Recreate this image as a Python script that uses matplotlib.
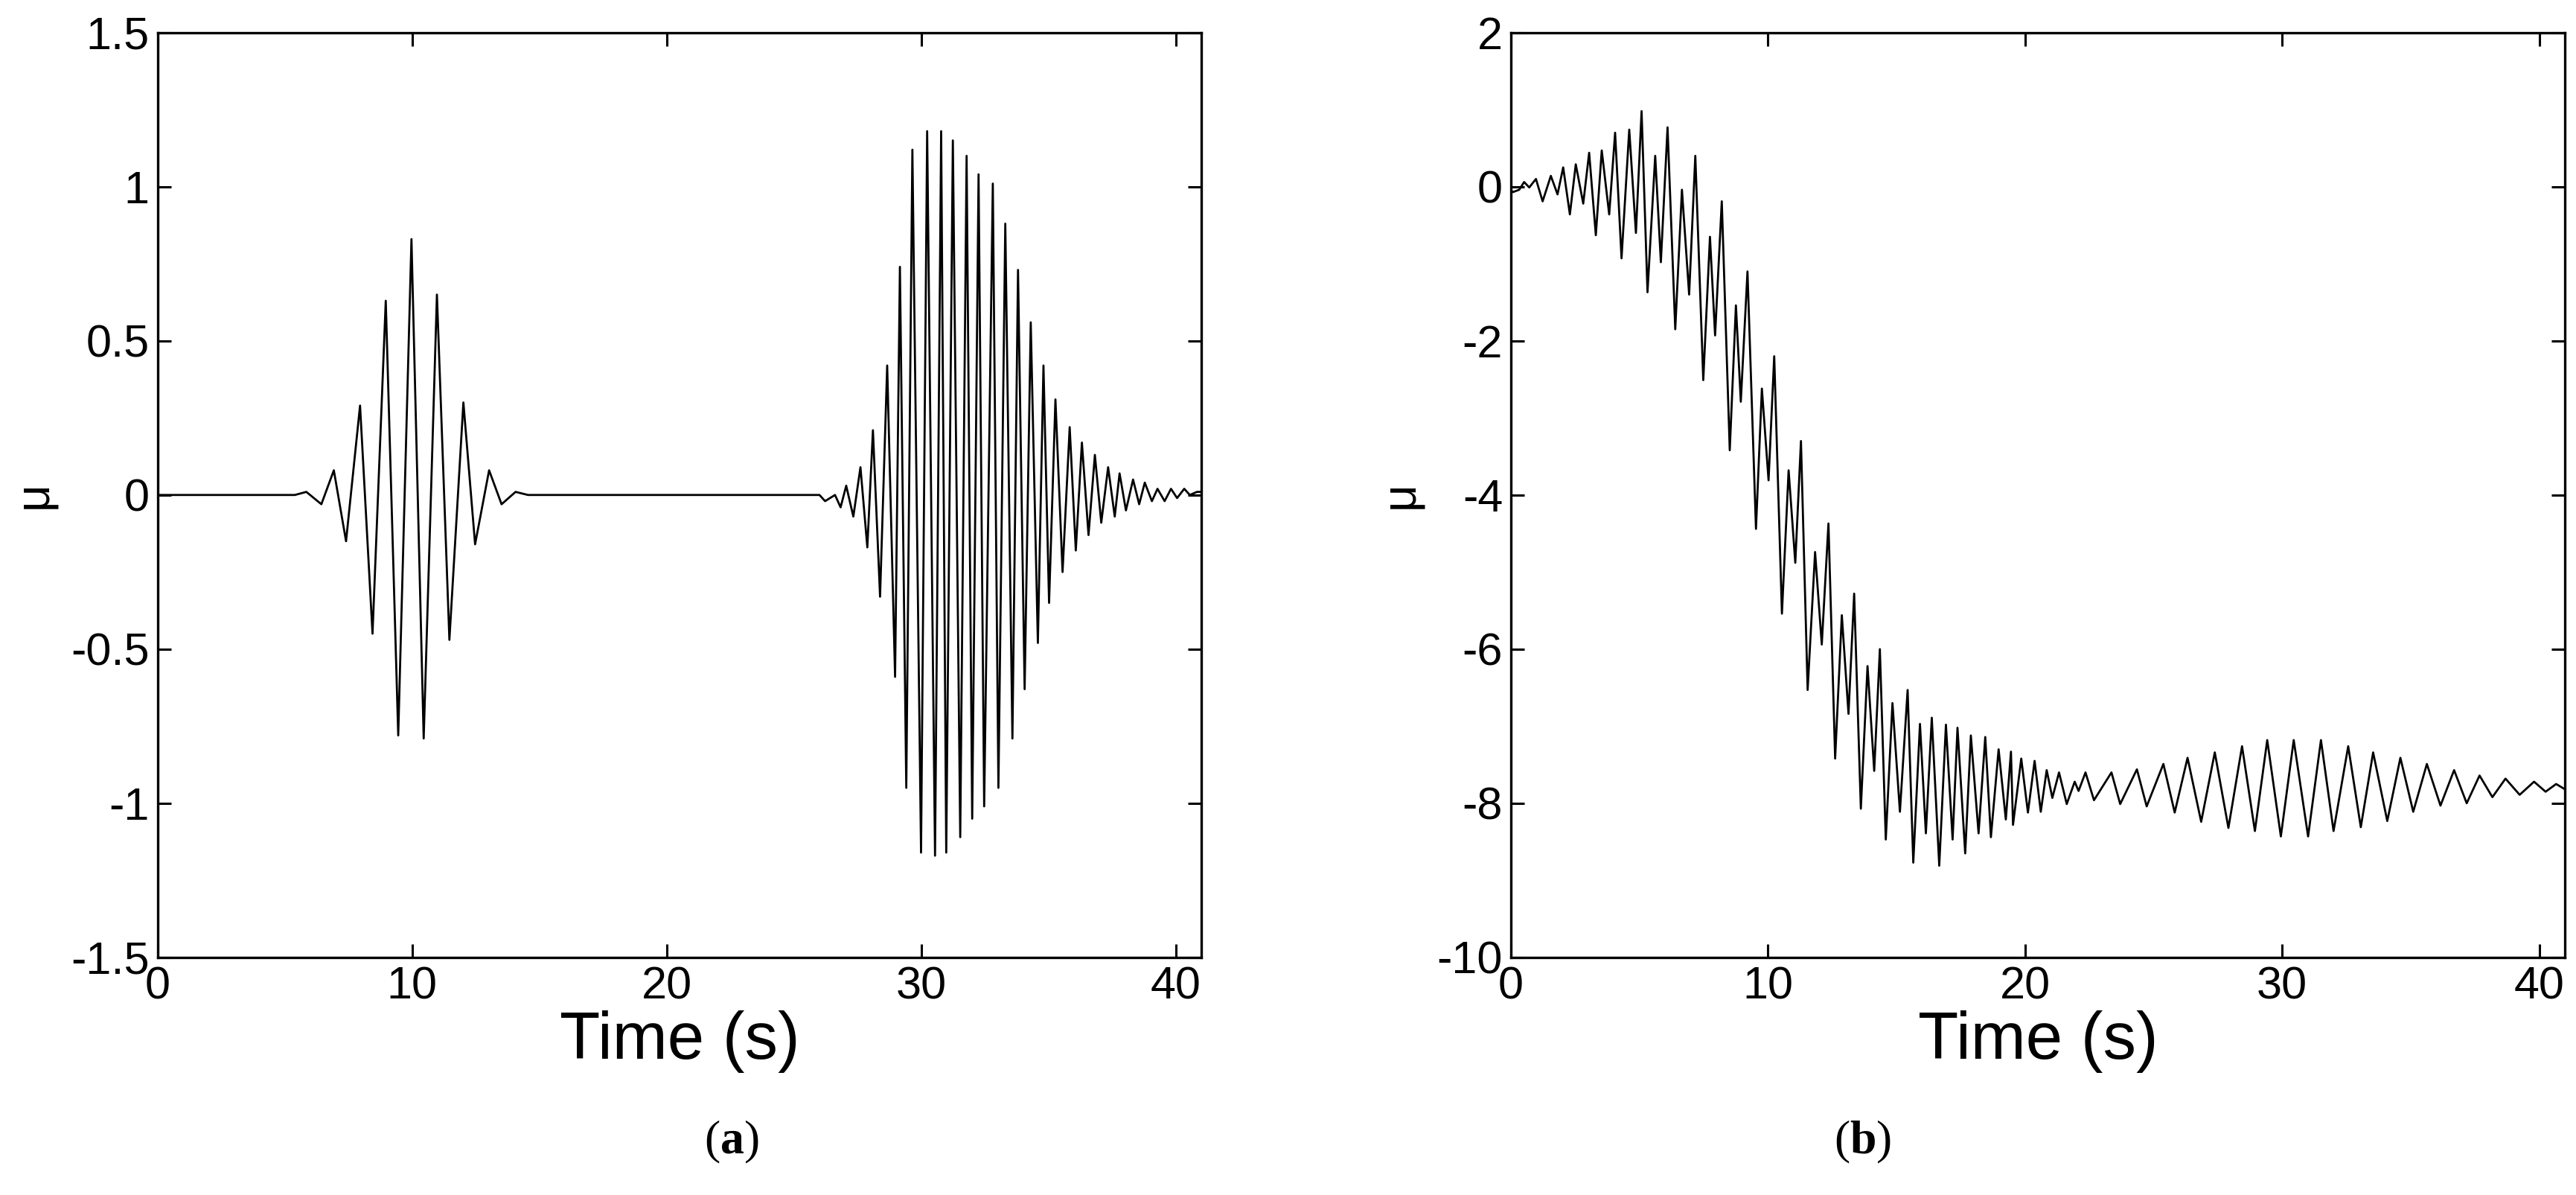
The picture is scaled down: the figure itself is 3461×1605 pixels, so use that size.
import matplotlib
matplotlib.use("Agg")
import matplotlib.pyplot as plt

plt.rcParams['font.family'] = ['Liberation Sans', 'DejaVu Sans']
plt.rcParams['axes.unicode_minus'] = False
plt.rcParams['mathtext.fontset'] = 'custom'
plt.rcParams['mathtext.rm'] = 'Liberation Serif'
plt.rcParams['mathtext.bf'] = 'Liberation Serif:bold'

# panel (a): extrema (time s, value)
a_t = [0, 5.39, 5.84, 6.43, 6.92, 7.40, 7.95, 8.44, 8.96, 9.45, 9.97, 10.45, 10.97, 11.46,
       12.01, 12.47, 13.02, 13.51, 14.06, 14.55,
       26.00, 26.22, 26.61, 26.83, 27.05, 27.33, 27.61, 27.88, 28.10, 28.38, 28.66, 28.97,
       29.16, 29.41, 29.65, 29.99, 30.23, 30.54, 30.78, 30.98, 31.24, 31.53, 31.78, 32.00,
       32.25, 32.47, 32.81, 33.03, 33.30, 33.58, 33.80, 34.06, 34.30, 34.58, 34.80, 35.02,
       35.27, 35.55, 35.83, 36.07, 36.31, 36.57, 36.82, 37.07, 37.34, 37.60, 37.79, 38.04,
       38.32, 38.56, 38.78, 39.06, 39.28, 39.56, 39.81, 40.05, 40.33, 40.55, 40.83, 41.0]
a_v = [0, 0, 0.01, -0.03, 0.08, -0.15, 0.29, -0.45, 0.63, -0.78, 0.83, -0.79, 0.65, -0.47,
       0.30, -0.16, 0.08, -0.03, 0.01, 0,
       0, -0.02, 0.0, -0.04, 0.03, -0.07, 0.09, -0.17, 0.21, -0.33, 0.42, -0.59,
       0.74, -0.95, 1.12, -1.16, 1.18, -1.17, 1.18, -1.16, 1.15, -1.11, 1.10, -1.05,
       1.04, -1.01, 1.01, -0.95, 0.88, -0.79, 0.73, -0.63, 0.56, -0.48, 0.42, -0.35,
       0.31, -0.25, 0.22, -0.18, 0.17, -0.13, 0.13, -0.09, 0.09, -0.07, 0.07, -0.05,
       0.05, -0.03, 0.04, -0.02, 0.02, -0.02, 0.02, -0.01, 0.02, 0.0, 0.01, 0.01]

# panel (b)
b_t = [0.0, 0.08, 0.32, 0.51, 0.71, 0.97, 1.23, 1.55, 1.81, 2.03, 2.29, 2.52, 2.81, 3.04, 3.30,
       3.53, 3.82, 4.05, 4.30, 4.60, 4.86, 5.08, 5.31, 5.61, 5.83, 6.09, 6.39, 6.65, 6.93,
       7.17, 7.48, 7.74, 7.94, 8.20, 8.51, 8.75, 8.94, 9.20, 9.53, 9.76, 10.02, 10.24, 10.54,
       10.80, 11.06, 11.28, 11.54, 11.83, 12.09, 12.35, 12.61, 12.87, 13.13, 13.35, 13.61,
       13.87, 14.13, 14.35, 14.58, 14.84, 15.13, 15.43, 15.65, 15.91, 16.14, 16.37, 16.66,
       16.92, 17.18, 17.37, 17.67, 17.89, 18.19, 18.45, 18.67, 18.97, 19.25, 19.45,
       19.53, 19.85, 20.11, 20.37, 20.61, 20.84, 21.06, 21.32, 21.62, 21.93, 22.08, 22.35,
       22.68, 23.36, 23.70, 24.35, 24.73, 25.38, 25.82, 26.32, 26.85, 27.38, 27.91, 28.44,
       28.94, 29.42, 29.95, 30.45, 31.01, 31.51, 32.00, 32.57, 33.06, 33.54, 34.09, 34.60,
       35.10, 35.63, 36.16, 36.69, 37.18, 37.68, 38.18, 38.69, 39.24, 39.80, 40.25, 40.66, 41.01]
b_v = [-0.05, -0.07, -0.04, 0.06, -0.01, 0.10, -0.19, 0.14, -0.10, 0.25, -0.36, 0.29, -0.22,
       0.44, -0.63, 0.47, -0.36, 0.70, -0.93, 0.74, -0.60, 0.98, -1.37, 0.40, -0.98, 0.77,
       -1.85, -0.04, -1.40, 0.40, -2.51, -0.65, -1.93, -0.19, -3.42, -1.54, -2.79, -1.10,
       -4.44, -2.62, -3.81, -2.20, -5.54, -3.68, -4.88, -3.30, -6.53, -4.74, -5.94, -4.37,
       -7.42, -5.56, -6.84, -5.28, -8.07, -6.22, -7.58, -6.00, -8.47, -6.70, -8.11, -6.53,
       -8.77, -6.97, -8.39, -6.89, -8.81, -6.98, -8.47, -7.02, -8.65, -7.12, -8.39, -7.14,
       -8.44, -7.30, -8.21, -7.33,
       -8.28, -7.42, -8.12, -7.45, -8.11, -7.57, -7.93, -7.60, -8.01, -7.72, -7.84, -7.60,
       -7.96, -7.60, -8.01, -7.56, -8.04, -7.49, -8.12, -7.41, -8.24, -7.34, -8.32, -7.26,
       -8.36, -7.18, -8.43, -7.18, -8.43, -7.18, -8.36, -7.26, -8.31, -7.34, -8.23, -7.41,
       -8.11, -7.49, -8.03, -7.57, -8.00, -7.64, -7.92, -7.68, -7.89, -7.72, -7.85, -7.75, -7.82]

a_ticks = [-1.5, -1, -0.5, 0, 0.5, 1, 1.5]
a_ticklabels = ['-1.5', '-1', '-0.5', '0', '0.5', '1', '1.5']
b_ticks = [-10, -8, -6, -4, -2, 0, 2]
x_ticks = [0, 10, 20, 30, 40]
captions = ['($\\mathbf{a}$)', '($\\mathbf{b}$)']

fig = plt.figure(figsize=(34.62, 16.05), dpi=100)
ax1 = fig.add_axes([0.0612, 0.1988, 0.405, 0.774])
ax2 = fig.add_axes([0.5864, 0.1988, 0.409, 0.774])

ax1.plot(a_t, a_v, color='black', lw=2.0)
ax1.set_ylim(-1.5, 1.5)
ax1.set_yticks(a_ticks)
ax1.set_yticklabels(a_ticklabels)

ax2.plot(b_t, b_v, color='black', lw=2.0)
ax2.set_ylim(-10, 2)
ax2.set_yticks(b_ticks)

for ax in (ax1, ax2):
    ax.set_xlim(0, 41)
    ax.set_xticks(x_ticks)
    ax.tick_params(direction='in', length=13, width=2.2, top=True, right=True,
                   labelsize=44, pad=8)
    for s in ax.spines.values():
        s.set_linewidth(2.4)
    ax.set_xlabel('Time (s)', fontsize=64, labelpad=2)
    ax.set_ylabel('μ', fontsize=46, labelpad=14)

fig.text(0.284, 0.044, captions[0], ha='center', va='center', fontsize=46,
         family=['Liberation Serif', 'DejaVu Serif'])
fig.text(0.723, 0.044, captions[1], ha='center', va='center', fontsize=46,
         family=['Liberation Serif', 'DejaVu Serif'])

fig.savefig('out.png', dpi=100)
